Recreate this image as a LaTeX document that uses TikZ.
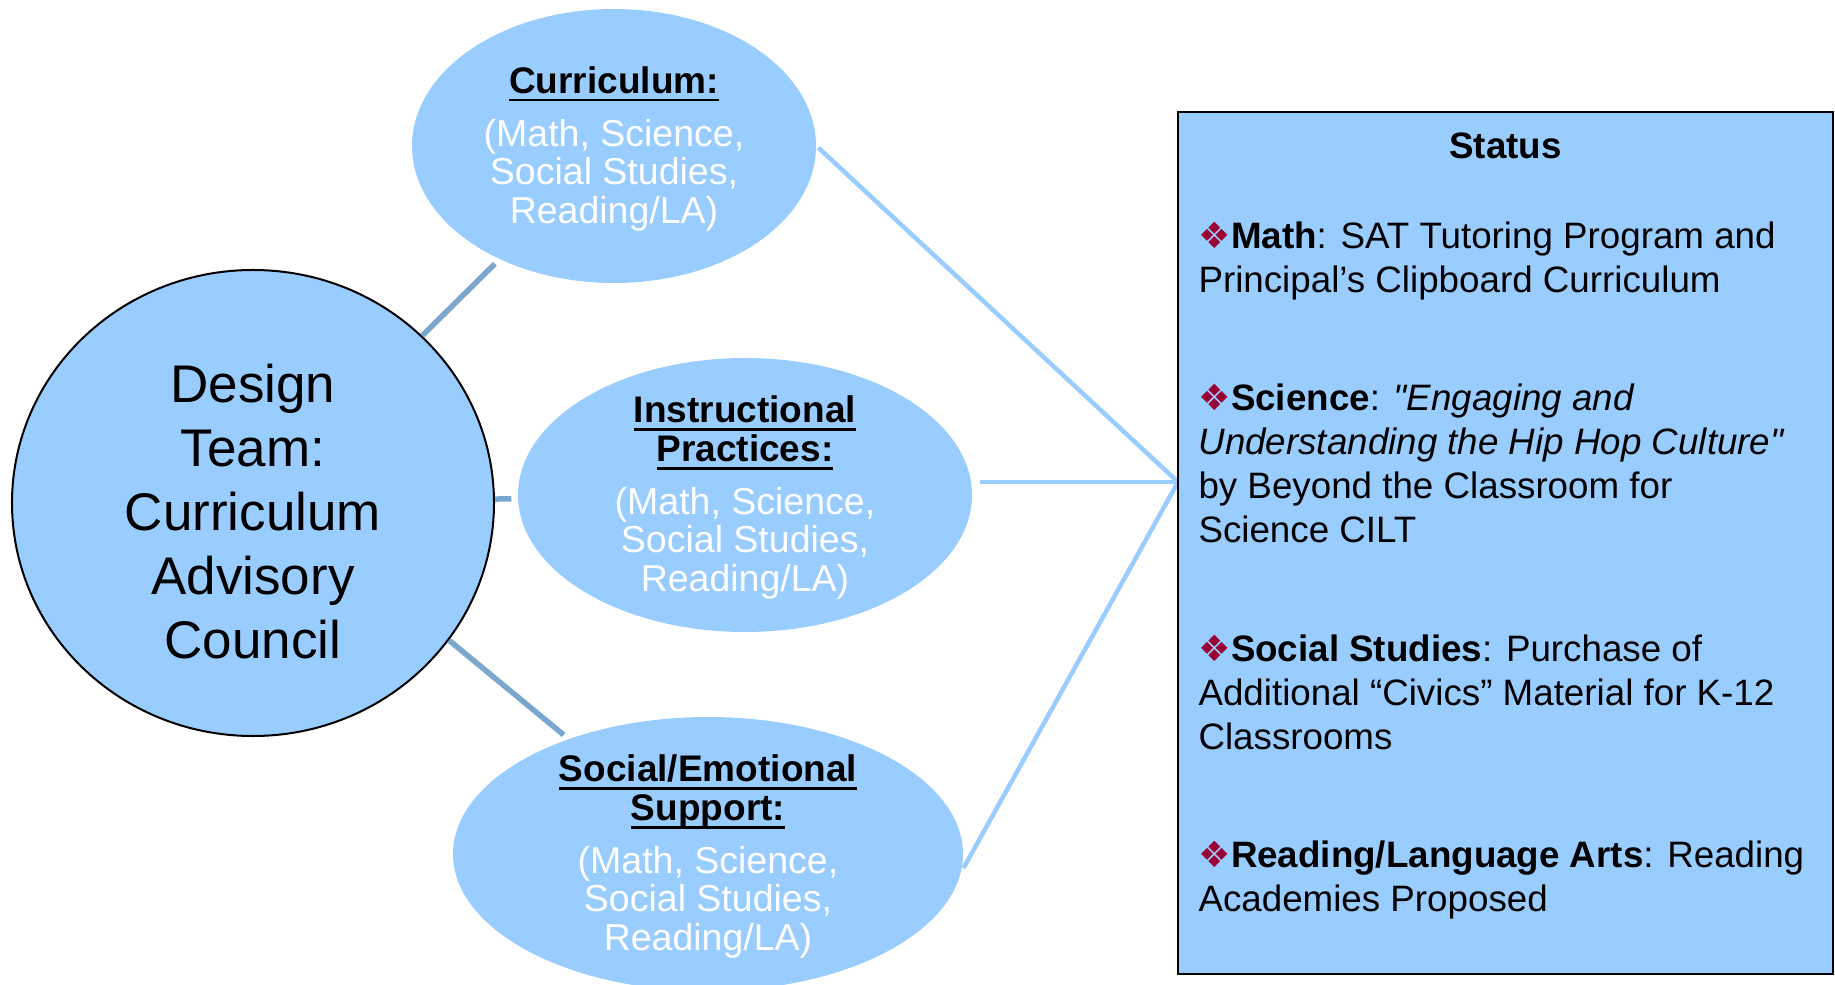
\documentclass[tikz,border=0pt]{standalone}
\usepackage{fontspec}
\setmainfont{Liberation Sans}
\newfontfamily\bulletfont{DejaVu Sans}
\usepackage{xcolor}
\usetikzlibrary{shapes.geometric, positioning}
\definecolor{fillblue}{HTML}{99CCFF}
\definecolor{linkblue}{HTML}{7BA7CF}
\definecolor{bulletred}{HTML}{990033}
\newcommand{\titleline}[1]{{\leavevmode\color{black}\fontsize{14.8}{15.4}\selectfont\bfseries\setbox0\hbox{#1}\rlap{\copy0}\rule[-3.3pt]{\wd0}{1.1pt}}}
\newcommand{\topic}{{\color{bulletred}\bulletfont\fontsize{14.5}{14.5}\selectfont ❖}}
\newcommand{\dq}{\XeTeXglyph\XeTeXcharglyph 34\relax}
\tikzset{link/.style = { draw = linkblue, line width = 2.2pt, shorten >= 2.5pt }}

\begin{document}
\begin{tikzpicture}[x = 0.4pt, y = -0.4pt, team/.style = { ellipse, draw, line width = 0.8pt, fill = fillblue, minimum width = 192.8pt, minimum height = 186.4pt, inner sep = 0pt, align = center, font = \fontsize{21.2}{25.6}\selectfont }, topic/.style = { ellipse, fill = fillblue, minimum height = 109.6pt, inner sep = 0pt }, topictext/.style = { inner sep = 0pt, align = center, text = white, yshift = -1pt, font = \fontsize{15}{15.4}\selectfont }, spoke/.style = { draw = fillblue, line width = 1.8pt }, entry/.style = { anchor = north west, inner sep = 0pt, align = left, font = \fontsize{14.7}{17.6}\selectfont }]
	\useasboundingbox (0, 0) rectangle (1835, 985);

	\node [team] (team) at (253, 503) {\rule{0pt}{21.9pt}Design\\Team:\\Curriculum\\Advisory\\Council};

	\node [topic, minimum width = 161.6pt] (cur) at (614, 146) {};
	\node [topictext] (curtext) at (cur) {\titleline{Curriculum:}\\[5.8pt](Math, Science,\\Social Studies,\\Reading/LA)};
	\node [topic, minimum width = 181.6pt] (ins) at (745, 495) {};
	\node [topictext] (instext) at (ins) {\titleline{Instructional}\\\titleline{Practices:}\\[5.8pt](Math, Science,\\Social Studies,\\Reading/LA)};
	\node [topic, minimum width = 204pt] (soc) at (708, 854) {};
	\node [topictext] (soctext) at (soc) {\titleline{Social/Emotional}\\\titleline{Support:}\\[5.8pt](Math, Science,\\Social Studies,\\Reading/LA)};

	\draw [link] (team) -- (cur);
	\draw [link] (team) -- (ins);
	\draw [link] (team.-35) -- (soc);

	\coordinate (hub) at (1178, 482);
	\draw [spoke, shorten <= 1pt] (cur.east) -- (hub);
	\draw [spoke, shorten <= 3pt] (ins.east |- hub) -- (hub);
	\draw [spoke] ([yshift = -5.6pt]soc.east) -- (hub);

	\node [draw, line width = 1pt, fill = fillblue, minimum width = 262pt, minimum height = 344.8pt, inner sep = 0pt] (status) at (1505.5, 543) {};
	\node [anchor = base, inner sep = 0pt, font = \fontsize{14.7}{17.6}\selectfont\bfseries] (head) at (1505.5, 159) {Status};

	\node [entry] (pmath) at (1198, 217) {\strut\topic\textbf{Math}: SAT Tutoring Program and\\Principal’s Clipboard Curriculum\strut};
	\node [entry, below = 29.4pt of pmath.south west, anchor = north west] (psci) {\strut\topic\textbf{Science}: \textit{\dq Engaging and}\\\textit{Understanding the Hip Hop Culture\dq}\\by Beyond the Classroom for\\Science CILT\strut};
	\node [entry, below = 29.4pt of psci.south west, anchor = north west] (psoc) {\strut\topic\textbf{Social Studies}: Purchase of\\Additional “Civics” Material for K-12\\Classrooms\strut};
	\node [entry, below = 29.4pt of psoc.south west, anchor = north west] (pread) {\strut\topic\textbf{Reading/Language Arts}: Reading\\Academies Proposed\strut};
\end{tikzpicture}
\end{document}
